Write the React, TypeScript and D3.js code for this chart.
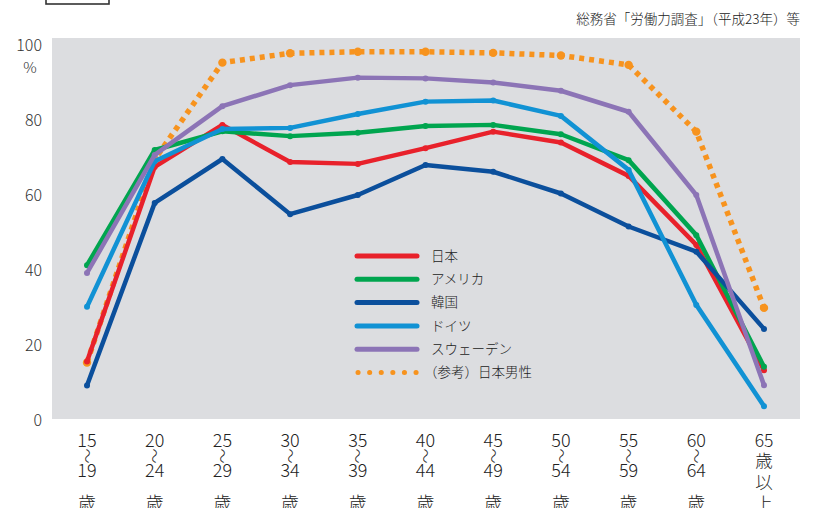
import * as d3 from 'd3'

const categories = ['15-19', '20-24', '25-29', '30-34', '35-39', '40-44', '45-49', '50-54', '55-59', '60-64', '65+']
const tickLabels: string[][] = [
  ['15', '19'], ['20', '24'], ['25', '29'], ['30', '34'], ['35', '39'], ['40', '44'],
  ['45', '49'], ['50', '54'], ['55', '59'], ['60', '64'],
]
const lastLabel = ['65', '歳', '以', '上']
const yTicks = [0, 20, 40, 60, 80, 100]

const japan = [15.6, 67.5, 78.7, 68.8, 68.3, 72.5, 76.9, 74.0, 65.1, 46.7, 13.3]
const usa = [41.3, 72.0, 77.0, 75.7, 76.6, 78.4, 78.7, 76.2, 69.3, 49.3, 14.2]
const korea = [9.2, 57.9, 69.6, 54.9, 60.0, 68.0, 66.2, 60.4, 51.6, 44.9, 24.3]
const germany = [30.2, 69.0, 77.6, 77.9, 81.6, 84.9, 85.2, 81.1, 66.7, 30.7, 3.7]
const sweden = [39.2, 70.7, 83.7, 89.3, 91.3, 91.1, 90.0, 87.8, 82.2, 60.0, 9.3]
const japanMale = [15.3, 69.5, 95.3, 97.8, 98.2, 98.2, 97.9, 97.2, 94.7, 76.9, 29.9]

const series = [
  { name: '日本', values: japan, color: '#e8212b' },
  { name: 'アメリカ', values: usa, color: '#00a54f' },
  { name: '韓国', values: korea, color: '#0b4f9c' },
  { name: 'ドイツ', values: germany, color: '#1192d4' },
  { name: 'スウェーデン', values: sweden, color: '#8c74b6' },
]
const refName = '（参考）日本男性'
const refColor = '#f7931e'
const source = '総務省「労働力調査」（平成23年）等'

const W = 816
const H = 508
const PLOT = { left: 52, right: 800, top: 38, bottom: 419 }
const FONT = '"Noto Sans CJK JP", "Noto Sans", sans-serif'

export default function App() {
  const x = d3.scalePoint<string>().domain(categories).range([87, 764])
  const y = d3.scaleLinear().domain([0, 100]).range([420, 45])
  const line = d3
    .line<number>()
    .x((_, i) => x(categories[i])!)
    .y((d) => y(d))

  const legendY = d3.scalePoint<string>().domain([...series.map((s) => s.name), refName]).range([256, 372.5])

  return (
    <svg width={W} height={H} style={{ position: 'absolute', left: 0, top: 0, background: '#fff' }} fontFamily={FONT} fontWeight={300}>
      {/* cut-off box at the top */}
      <rect x={46} y={-10} width={63} height={14} fill="none" stroke="#333" strokeWidth={1.6} />
      <text x={800} y={24} textAnchor="end" fontSize={13.5} fill="#222">
        {source}
      </text>

      <rect x={PLOT.left} y={PLOT.top} width={PLOT.right - PLOT.left} height={PLOT.bottom - PLOT.top} fill="#dcdde0" />

      {yTicks.map((t) => (
        <text key={t} x={42} y={y(t)} dy="0.36em" textAnchor="end" fontSize={16} fill="#333">
          {t}
        </text>
      ))}
      <text x={30} y={68} dy="0.36em" textAnchor="middle" fontSize={15} fill="#333">
        %
      </text>

      {/* reference dotted line, drawn beneath */}
      <path d={line(japanMale) ?? ''} fill="none" stroke={refColor} strokeWidth={5.5} strokeDasharray="5 5" />
      {japanMale.map((v, i) => (
        <circle key={i} cx={x(categories[i])} cy={y(v)} r={4.2} fill={refColor} />
      ))}

      {series.map((s) => (
        <g key={s.name}>
          <path d={line(s.values) ?? ''} fill="none" stroke={s.color} strokeWidth={4.5} strokeLinejoin="round" />
          {s.values.map((v, i) => (
            <circle key={i} cx={x(categories[i])} cy={y(v)} r={3} fill={s.color} />
          ))}
        </g>
      ))}

      {/* legend */}
      {series.map((s) => (
        <g key={s.name}>
          <line x1={357} x2={417} y1={legendY(s.name)} y2={legendY(s.name)} stroke={s.color} strokeWidth={5} strokeLinecap="round" />
          <text x={431} y={legendY(s.name)} dy="0.36em" fontSize={13.5} fill="#222">
            {s.name}
          </text>
        </g>
      ))}
      <line x1={358} x2={418} y1={legendY(refName)} y2={legendY(refName)} stroke={refColor} strokeWidth={5} strokeLinecap="round" strokeDasharray="0.1 11.5" />
      <text x={424} y={legendY(refName)} dy="0.36em" fontSize={13.5} fill="#222">
        {refName}
      </text>

      {/* x axis labels */}
      {tickLabels.map((lbl, i) => {
        const cx = x(categories[i])!
        return (
          <g key={i} fontSize={18} fill="#222" textAnchor="middle">
            <text x={cx} y={447}>{lbl[0]}</text>
            <text x={cx} y={456} dy="0.36em" fontSize={15} transform={`rotate(90 ${cx} 456)`}>〜</text>
            <text x={cx} y={477}>{lbl[1]}</text>
            <text x={cx} y={510}>歳</text>
          </g>
        )
      })}
      {(() => {
        const cx = x(categories[10])!
        const ys = [447, 467, 489, 510]
        return (
          <g fontSize={17.5} fill="#222" textAnchor="middle">
            {lastLabel.map((t, i) => (
              <text key={i} x={cx} y={ys[i]}>
                {t}
              </text>
            ))}
          </g>
        )
      })()}
    </svg>
  )
}
